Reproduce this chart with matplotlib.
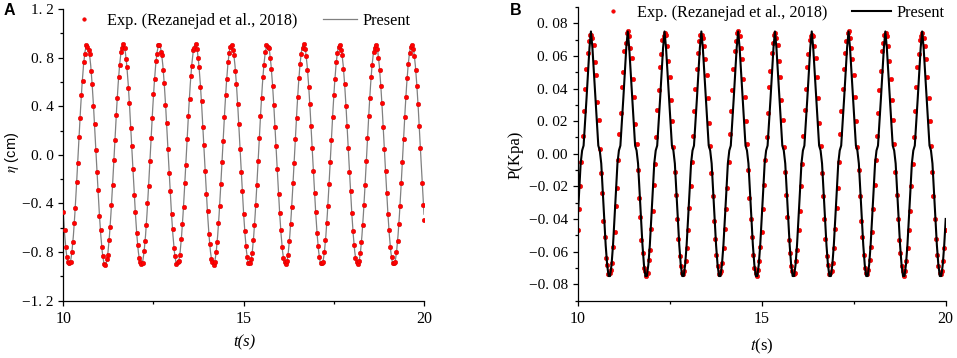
import numpy as np
import matplotlib
matplotlib.use("Agg")
import matplotlib.pyplot as plt
from matplotlib.ticker import FixedLocator, FixedFormatter, MultipleLocator

# ---------------- data: panel A (free-surface elevation, cm) ----------------
t_start, t_end = 10.0, 20.0

eta_model = [
    -0.488, -0.663, -0.797, -0.881,
    -0.910, -0.881, -0.797, -0.663, -0.488, -0.281, -0.057, 0.171, 0.387, 0.580, 0.736, 0.846, 0.903, 0.903, 0.846, 0.736, 0.580, 0.387, 0.171, -0.057, -0.281, -0.488, -0.663, -0.797, -0.881,
    -0.910, -0.881, -0.797, -0.663, -0.488, -0.281, -0.057, 0.171, 0.387, 0.580, 0.736, 0.846, 0.903, 0.903, 0.846, 0.736, 0.580, 0.387, 0.171, -0.057, -0.281, -0.488, -0.663, -0.797, -0.881,
    -0.910, -0.881, -0.797, -0.663, -0.488, -0.281, -0.057, 0.171, 0.387, 0.580, 0.736, 0.846, 0.903, 0.903, 0.846, 0.736, 0.580, 0.387, 0.171, -0.057, -0.281, -0.488, -0.663, -0.797, -0.881,
    -0.910, -0.881, -0.797, -0.663, -0.488, -0.281, -0.057, 0.171, 0.387, 0.580, 0.736, 0.846, 0.903, 0.903, 0.846, 0.736, 0.580, 0.387, 0.171, -0.057, -0.281, -0.488, -0.663, -0.797, -0.881,
    -0.910, -0.881, -0.797, -0.663, -0.488, -0.281, -0.057, 0.171, 0.387, 0.580, 0.736, 0.846, 0.903, 0.903, 0.846, 0.736, 0.580, 0.387, 0.171, -0.057, -0.281, -0.488, -0.663, -0.797, -0.881,
    -0.910, -0.881, -0.797, -0.663, -0.488, -0.281, -0.057, 0.171, 0.387, 0.580, 0.736, 0.846, 0.903, 0.903, 0.846, 0.736, 0.580, 0.387, 0.171, -0.057, -0.281, -0.488, -0.663, -0.797, -0.881,
    -0.910, -0.881, -0.797, -0.663, -0.488, -0.281, -0.057, 0.171, 0.387, 0.580, 0.736, 0.846, 0.903, 0.903, 0.846, 0.736, 0.580, 0.387, 0.171, -0.057, -0.281, -0.488, -0.663, -0.797, -0.881,
    -0.910, -0.881, -0.797, -0.663, -0.488, -0.281, -0.057, 0.171, 0.387, 0.580, 0.736, 0.846, 0.903, 0.903, 0.846, 0.736, 0.580, 0.387, 0.171, -0.057, -0.281, -0.488, -0.663, -0.797, -0.881,
    -0.910, -0.881, -0.797, -0.663, -0.488, -0.281, -0.057, 0.171, 0.387, 0.580, 0.736, 0.846, 0.903, 0.903, 0.846, 0.736, 0.580, 0.387, 0.171, -0.057, -0.281, -0.488, -0.663, -0.797, -0.881,
    -0.910, -0.881, -0.797, -0.663, -0.488, -0.281, -0.057, 0.171, 0.387, 0.580, 0.736, 0.846, 0.903, 0.903, 0.846, 0.736, 0.580, 0.387, 0.171, -0.057, -0.281, -0.488,
]

eta_exp = [
    -0.47, -0.62, -0.76, -0.84, -0.88,
    -0.89, -0.88, -0.80, -0.72, -0.56, -0.44, -0.22, -0.07, 0.15, 0.30,
    0.49, 0.61, 0.76, 0.83, 0.90, 0.89, 0.86, 0.83, 0.69, 0.58,
    0.40, 0.25, 0.04, -0.14, -0.29, -0.50, -0.62, -0.76, -0.83, -0.90,
    -0.91, -0.86, -0.82, -0.70, -0.59, -0.41, -0.25, -0.04, 0.12, 0.33,
    0.47, 0.64, 0.74, 0.85, 0.88, 0.91, 0.88, 0.79, 0.72, 0.55,
    0.43, 0.22, 0.07, -0.12, -0.33, -0.47, -0.64, -0.74, -0.85, -0.88,
    -0.90, -0.89, -0.79, -0.71, -0.58, -0.40, -0.26, -0.05, 0.14, 0.30,
    0.50, 0.62, 0.77, 0.83, 0.90, 0.90, 0.85, 0.82, 0.70, 0.59,
    0.41, 0.26, 0.05, -0.15, -0.30, -0.49, -0.61, -0.77, -0.83, -0.90,
    -0.88, -0.87, -0.82, -0.69, -0.57, -0.43, -0.23, -0.08, 0.13, 0.32,
    0.46, 0.65, 0.73, 0.86, 0.88, 0.91, 0.87, 0.80, 0.72, 0.56,
    0.44, 0.23, 0.08, -0.13, -0.32, -0.46, -0.65, -0.73, -0.86, -0.88,
    -0.91, -0.88, -0.80, -0.72, -0.56, -0.42, -0.24, -0.06, 0.11, 0.31,
    0.49, 0.62, 0.76, 0.84, 0.89, 0.90, 0.86, 0.82, 0.69, 0.58,
    0.42, 0.25, 0.05, -0.14, -0.30, -0.49, -0.63, -0.75, -0.84, -0.89,
    -0.89, -0.86, -0.81, -0.70, -0.58, -0.41, -0.25, -0.05, 0.14, 0.32,
    0.47, 0.64, 0.74, 0.85, 0.90, 0.89, 0.88, 0.80, 0.71, 0.57,
    0.41, 0.23, 0.07, -0.12, -0.32, -0.48, -0.62, -0.76, -0.85, -0.88,
    -0.90, -0.87, -0.82, -0.71, -0.57, -0.43, -0.23, -0.07, 0.13, 0.30,
    0.48, 0.63, 0.75, 0.83, 0.88, 0.91, 0.87, 0.81, 0.70, 0.56,
    0.42, 0.24, 0.06, -0.13, -0.31, -0.47, -0.64, -0.75, -0.84, -0.89,
    -0.89, -0.88, -0.80, -0.70, -0.56, -0.42, -0.24, -0.06, 0.12, 0.31,
    0.49, 0.62, 0.76, 0.84, 0.89, 0.90, 0.86, 0.82, 0.71, 0.58,
    0.40, 0.24, 0.06, -0.14, -0.30, -0.48, -0.63, -0.74, -0.85, -0.88,
    -0.90, -0.87, -0.81, -0.72, -0.58, -0.41, -0.25, -0.05, 0.14, 0.32,
    0.47, 0.64, 0.74, 0.85, 0.88, 0.90, 0.87, 0.80, 0.70, 0.57,
    0.43, 0.23, 0.05, -0.13, -0.31, -0.49, -0.62, -0.76, -0.84, -0.89,
    -0.89, -0.88, -0.80, -0.71, -0.57, -0.42, -0.23, -0.06, 0.13, 0.31,
    0.48, 0.63, 0.75, 0.84, 0.89, 0.90, 0.87, 0.81, 0.70, 0.57,
    0.42, 0.24, 0.06, -0.23, -0.41, -0.54,
]

# ---------------- data: panel B (pressure, kPa) ----------------
p_model = [
    -0.040, -0.023, -0.006, 0.002, 0.005, 0.019, 0.034, 0.050, 0.065,
    0.075, 0.065, 0.050, 0.034, 0.019, 0.005, 0.002, -0.006, -0.023, -0.040, -0.056, -0.068, -0.075, -0.075, -0.068, -0.056, -0.040, -0.023, -0.006, 0.002, 0.005, 0.019, 0.034, 0.050, 0.065,
    0.075, 0.065, 0.050, 0.034, 0.019, 0.005, 0.002, -0.006, -0.023, -0.040, -0.056, -0.068, -0.075, -0.075, -0.068, -0.056, -0.040, -0.023, -0.006, 0.002, 0.005, 0.019, 0.034, 0.050, 0.065,
    0.075, 0.065, 0.050, 0.034, 0.019, 0.005, 0.002, -0.006, -0.023, -0.040, -0.056, -0.068, -0.075, -0.075, -0.068, -0.056, -0.040, -0.023, -0.006, 0.002, 0.005, 0.019, 0.034, 0.050, 0.065,
    0.075, 0.065, 0.050, 0.034, 0.019, 0.005, 0.002, -0.006, -0.023, -0.040, -0.056, -0.068, -0.075, -0.075, -0.068, -0.056, -0.040, -0.023, -0.006, 0.002, 0.005, 0.019, 0.034, 0.050, 0.065,
    0.075, 0.065, 0.050, 0.034, 0.019, 0.005, 0.002, -0.006, -0.023, -0.040, -0.056, -0.068, -0.075, -0.075, -0.068, -0.056, -0.040, -0.023, -0.006, 0.002, 0.005, 0.019, 0.034, 0.050, 0.065,
    0.075, 0.065, 0.050, 0.034, 0.019, 0.005, 0.002, -0.006, -0.023, -0.040, -0.056, -0.068, -0.075, -0.075, -0.068, -0.056, -0.040, -0.023, -0.006, 0.002, 0.005, 0.019, 0.034, 0.050, 0.065,
    0.075, 0.065, 0.050, 0.034, 0.019, 0.005, 0.002, -0.006, -0.023, -0.040, -0.056, -0.068, -0.075, -0.075, -0.068, -0.056, -0.040, -0.023, -0.006, 0.002, 0.005, 0.019, 0.034, 0.050, 0.065,
    0.075, 0.065, 0.050, 0.034, 0.019, 0.005, 0.002, -0.006, -0.023, -0.040, -0.056, -0.068, -0.075, -0.075, -0.068, -0.056, -0.040, -0.023, -0.006, 0.002, 0.005, 0.019, 0.034, 0.050, 0.065,
    0.075, 0.065, 0.050, 0.034, 0.019, 0.005, 0.002, -0.006, -0.023, -0.040, -0.056, -0.068, -0.075, -0.075, -0.068, -0.056, -0.040, -0.023, -0.006, 0.002, 0.005, 0.019, 0.034, 0.050, 0.065,
    0.075, 0.065, 0.050, 0.034, 0.019, 0.005, 0.002, -0.006, -0.023, -0.040, -0.056, -0.068, -0.075, -0.075, -0.068, -0.056, -0.040,
]

p_exp = [
    -0.047, -0.034, -0.020, -0.005, 0.011, 0.026, 0.040, 0.052, 0.062, 0.069, 0.073,
    0.073, 0.071, 0.067, 0.056, 0.048, 0.032, 0.021, 0.003, -0.012, -0.024,
    -0.041, -0.051, -0.064, -0.068, -0.074, -0.073, -0.071, -0.067, -0.057, -0.048,
    -0.032, -0.021, -0.004, 0.012, 0.025, 0.041, 0.050, 0.063, 0.068, 0.074,
    0.075, 0.072, 0.065, 0.059, 0.046, 0.035, 0.018, 0.006, -0.010, -0.027,
    -0.039, -0.053, -0.061, -0.070, -0.072, -0.075, -0.073, -0.065, -0.059, -0.046,
    -0.035, -0.019, -0.006, 0.010, 0.027, 0.039, 0.053, 0.061, 0.070, 0.072,
    0.074, 0.073, 0.066, 0.057, 0.047, 0.033, 0.020, 0.004, -0.011, -0.025,
    -0.040, -0.052, -0.063, -0.069, -0.073, -0.074, -0.072, -0.066, -0.058, -0.047,
    -0.033, -0.020, -0.005, 0.011, 0.026, 0.040, 0.052, 0.062, 0.069, 0.073,
    0.073, 0.071, 0.066, 0.058, 0.048, 0.034, 0.019, 0.005, -0.012, -0.026,
    -0.041, -0.052, -0.062, -0.069, -0.074, -0.073, -0.072, -0.067, -0.058, -0.046,
    -0.034, -0.021, -0.005, 0.012, 0.026, 0.039, 0.052, 0.063, 0.069, 0.074,
    0.075, 0.072, 0.065, 0.058, 0.046, 0.035, 0.020, 0.006, -0.010, -0.027,
    -0.040, -0.051, -0.062, -0.070, -0.073, -0.075, -0.071, -0.066, -0.057, -0.048,
    -0.034, -0.019, -0.004, 0.010, 0.025, 0.041, 0.051, 0.062, 0.068, 0.073,
    0.074, 0.071, 0.067, 0.057, 0.047, 0.033, 0.021, 0.004, -0.011, -0.025,
    -0.039, -0.053, -0.061, -0.069, -0.072, -0.074, -0.073, -0.066, -0.059, -0.047,
    -0.035, -0.020, -0.006, 0.011, 0.027, 0.040, 0.053, 0.061, 0.070, 0.072,
    0.073, 0.072, 0.066, 0.059, 0.047, 0.034, 0.019, 0.005, -0.012, -0.026,
    -0.040, -0.052, -0.063, -0.068, -0.074, -0.073, -0.072, -0.067, -0.058, -0.046,
    -0.033, -0.021, -0.005, 0.012, 0.026, 0.040, 0.052, 0.062, 0.069, 0.074,
    0.075, 0.071, 0.065, 0.058, 0.048, 0.035, 0.020, 0.004, -0.010, -0.026,
    -0.041, -0.051, -0.062, -0.070, -0.073, -0.074, -0.071, -0.065, -0.057, -0.048,
    -0.034, -0.019, -0.004, 0.011, 0.025, 0.039, 0.051, 0.063, 0.068, 0.073,
    0.074, 0.072, 0.066, 0.057, 0.046, 0.033, 0.021, 0.006, -0.011, -0.025,
    -0.040, -0.053, -0.061, -0.069, -0.072, -0.075, -0.072, -0.066, -0.058, -0.047,
    -0.035, -0.020, -0.006, 0.010, 0.026, 0.041, 0.053, 0.061, 0.070, 0.072,
    0.074, 0.071, 0.066, 0.058, 0.047, 0.034, 0.020, 0.005, -0.011, -0.026,
    -0.040, -0.052, -0.062, -0.069, -0.073, -0.074, -0.072, -0.066, -0.058, -0.047,
]

x_ticks = [10, 15, 20]
x_ticklabels = ["10", "15", "20"]
a_yticks = [-1.2, -0.8, -0.4, 0.0, 0.4, 0.8, 1.2]
a_yticklabels = ["\u22121. 2", "\u22120. 8", "\u22120. 4", "0. 0", "0. 4", "0. 8", "1. 2"]
b_yticks = [-0.08, -0.06, -0.04, -0.02, 0.0, 0.02, 0.04, 0.06, 0.08]
b_yticklabels = ["\u22120. 08", "\u22120. 06", "\u22120. 04", "\u22120. 02", "0. 00",
                 "0. 02", "0. 04", "0. 06", "0. 08"]
exp_label = "Exp. (Rezanejad et al., 2018)"
model_label = "Present"

# ---------------- figure ----------------
plt.rcParams["font.family"] = ["Liberation Serif", "DejaVu Serif"]
plt.rcParams["mathtext.fontset"] = "stix"
SERIF = "Liberation Serif"
SANS = "Liberation Sans"
FS = 11.7

W, H = 957, 358
fig = plt.figure(figsize=(W / 100, H / 100), dpi=100)


def fig_rect(x0, y0, x1, y1):
    return [x0 / W, 1 - y1 / H, (x1 - x0) / W, (y1 - y0) / H]


axA = fig.add_axes(fig_rect(63.3, 9.0, 424.0, 300.7))
axB = fig.add_axes(fig_rect(577.7, 7.0, 945.7, 300.5))

tA_model = np.linspace(t_start, t_end, len(eta_model))
tA_exp = np.linspace(t_start, t_end, len(eta_exp))
tB_model = np.linspace(t_start, t_end, len(p_model))
tB_exp = np.linspace(t_start, t_end, len(p_exp))

red = "#ff0000"
hA_line, = axA.plot(tA_model, eta_model, color="#808080", lw=0.9, zorder=2)
hA_dot, = axA.plot(tA_exp, eta_exp, ls="none", marker="o", ms=3.3, mfc=red,
                   mec="#d00000", mew=0.3, zorder=3)
hB_dot, = axB.plot(tB_exp, p_exp, ls="none", marker="o", ms=3.3, mfc=red,
                   mec="#d00000", mew=0.3, zorder=2)
hB_line, = axB.plot(tB_model, p_model, color="black", lw=1.5, zorder=3)

for ax in (axA, axB):
    ax.set_xlim(t_start, t_end)
    for s in ("top", "right"):
        ax.spines[s].set_visible(False)
    for s in ("left", "bottom"):
        ax.spines[s].set_linewidth(0.9)
    ax.xaxis.set_major_locator(FixedLocator(x_ticks))
    ax.xaxis.set_major_formatter(FixedFormatter(x_ticklabels))
    ax.xaxis.set_minor_locator(MultipleLocator(2.5))
    ax.tick_params(which="major", direction="out", length=3.6, width=0.9)
    ax.tick_params(which="minor", direction="out", length=2.2, width=0.9)
    ax.tick_params(axis="x", which="major", labelsize=11.5, pad=4)
    ax.tick_params(axis="y", which="major", labelsize=11, pad=3.5)
    for lab in ax.get_xticklabels() + ax.get_yticklabels():
        lab.set_fontfamily(SERIF)

axA.set_ylim(-1.2, 1.2)
axA.yaxis.set_major_locator(FixedLocator(a_yticks))
axA.yaxis.set_major_formatter(FixedFormatter(a_yticklabels))
axA.yaxis.set_minor_locator(MultipleLocator(0.2))

axB.set_ylim(-0.09, 0.09)
axB.yaxis.set_major_locator(FixedLocator(b_yticks))
axB.yaxis.set_major_formatter(FixedFormatter(b_yticklabels))
axB.yaxis.set_minor_locator(MultipleLocator(0.01))

# axis labels
fig.text(244 / W, 1 - 342 / H, "t(s)", fontfamily=SERIF, fontstyle="italic",
         fontsize=12, ha="center", va="center")
fig.text(762 / W, 1 - 346 / H, "$t$(s)", fontfamily=SERIF,
         fontsize=12, ha="center", va="center")
fig.text(12 / W, 1 - 152 / H, r"$\eta$ (cm)", fontfamily=SANS, fontsize=10.5,
         rotation=90, ha="center", va="center")
fig.text(516 / W, 1 - 155 / H, "P(Kpa)", fontfamily=SERIF, fontsize=12,
         rotation=90, ha="center", va="center")

# panel letters
fig.text(4 / W, 1 - 10.5 / H, "A", fontfamily=SANS, fontweight="bold",
         fontsize=11.5, ha="left", va="center")
fig.text(510 / W, 1 - 10.5 / H, "B", fontfamily=SANS, fontweight="bold",
         fontsize=11.5, ha="left", va="center")

# legends
legA = fig.legend([hA_dot, hA_line], [exp_label, model_label], ncol=2,
                  loc="center left", bbox_to_anchor=(67 / W, 1 - 21 / H),
                  frameon=False, borderpad=0, borderaxespad=0, markerscale=0.8,
                  handlelength=2.1, handletextpad=0.37, columnspacing=1.54,
                  prop={"family": SERIF, "size": FS})
legB = fig.legend([hB_dot, hB_line], [exp_label, model_label], ncol=2,
                  loc="center left", bbox_to_anchor=(593.2 / W, 1 - 13 / H),
                  frameon=False, borderpad=0, borderaxespad=0, markerscale=0.8,
                  handlelength=2.4, handletextpad=0.28, columnspacing=1.56,
                  prop={"family": SERIF, "size": FS})

fig.savefig("out.png", dpi=100)
